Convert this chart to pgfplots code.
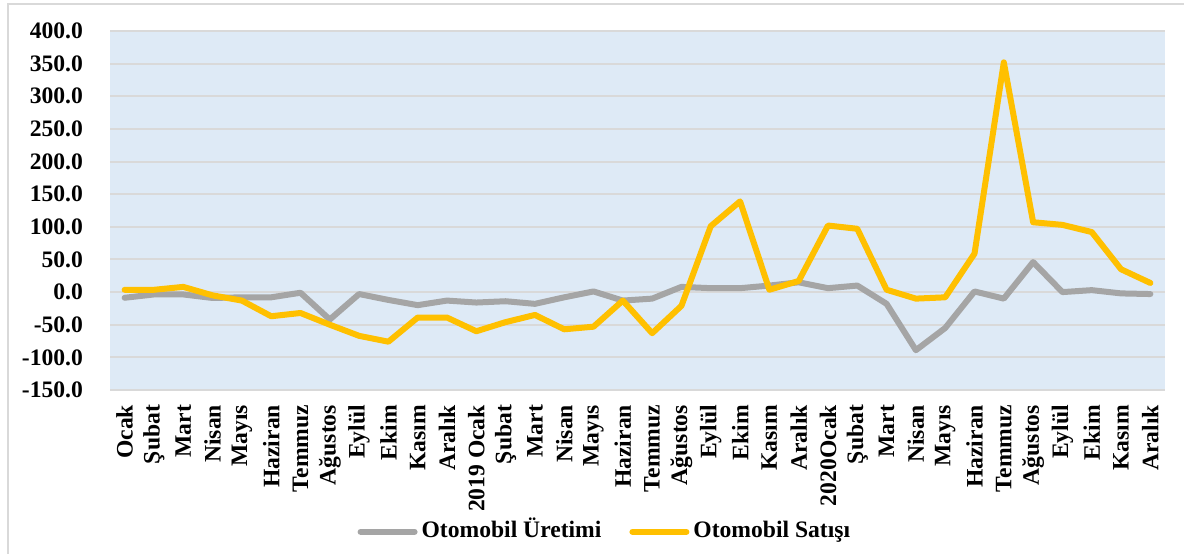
\documentclass[border=0pt]{standalone}
\usepackage{pgfplots}
\pgfplotsset{compat=1.18}
\usepackage{fontspec}
\setmainfont{Liberation Serif}
\definecolor{uret}{HTML}{A5A5A5}
\definecolor{sat}{HTML}{FFC000}
\definecolor{bgblue}{HTML}{DEEAF6}
\definecolor{gridc}{HTML}{D9D9D9}
\newcommand{\lf}{\bfseries\fontsize{11.8}{13}\selectfont}
\begin{document}
\begin{tikzpicture}
\path[use as bounding box] (0,0) rectangle (592pt,276.5pt);
\draw[gridc, line width=0.8pt] (4pt,-5pt) -- (4pt,274.5pt) -- (600pt,274.5pt);
\begin{axis}[
  at={(55pt,81.5pt)}, anchor=south west,
  width=527.5pt, height=179.5pt, scale only axis,
  xmin=-0.5, xmax=35.5, ymin=-150, ymax=400,
  axis line style={draw=none},
  axis background/.style={fill=bgblue},
  ymajorgrids, grid style={gridc, line width=1pt},
  ytick={-150,-100,-50,0,50,100,150,200,250,300,350,400},
  yticklabels={-150.0,-100.0,-50.0,0.0,50.0,100.0,150.0,200.0,250.0,300.0,350.0,400.0},
  xtick={0,...,35},
  xticklabels={Ocak,Şubat,Mart,Nisan,Mayıs,Haziran,Temmuz,Ağustos,Eylül,Ekim,Kasım,Aralık,
    2019 Ocak,Şubat,Mart,Nisan,Mayıs,Haziran,Temmuz,Ağustos,Eylül,Ekim,Kasım,Aralık,
    2020Ocak,Şubat,Mart,Nisan,Mayıs,Haziran,Temmuz,Ağustos,Eylül,Ekim,Kasım,Aralık},
  major tick length=0pt,
  ticklabel style={font=\lf},
  yticklabel style={xshift=-10pt},
  xticklabel style={rotate=90, anchor=east, xshift=-4pt},
  legend columns=2,
  legend style={at={(0.470,-0.395)}, anchor=center, draw=none, fill=none, font=\lf,
    nodes={text height=0.75em, text depth=0.2em},
    /tikz/every even column/.append style={column sep=12pt}},
  legend image code/.code={\draw[#1] (0pt,0pt) -- (27pt,0pt);},
  every axis plot/.append style={line width=3pt, line join=round, line cap=round},
]
\addplot[uret] coordinates {
(0,-8.7) (1,-3.6) (2,-3.6) (3,-9) (4,-8) (5,-8) (6,-1) (7,-42) (8,-3) (9,-12) (10,-20) (11,-13)
(12,-16) (13,-14) (14,-18) (15,-8) (16,1) (17,-13) (18,-10) (19,8) (20,6) (21,6) (22,10) (23,15)
(24,6) (25,10) (26,-18) (27,-89) (28,-55) (29,1) (30,-10) (31,46) (32,0) (33,3) (34,-2) (35,-3)};
\addlegendentry{Otomobil Üretimi}
\addplot[sat] coordinates {
(0,3.5) (1,3.5) (2,8) (3,-5) (4,-13) (5,-37) (6,-32) (7,-50) (8,-67) (9,-76) (10,-39) (11,-39)
(12,-60) (13,-46) (14,-35) (15,-57) (16,-53) (17,-13) (18,-63) (19,-21) (20,101) (21,139) (22,3.6) (23,17)
(24,102) (25,97) (26,3.6) (27,-10) (28,-8) (29,59) (30,352) (31,107) (32,103) (33,92) (34,35) (35,14)};
\addlegendentry{Otomobil Satışı}
\end{axis}
\end{tikzpicture}
\end{document}
